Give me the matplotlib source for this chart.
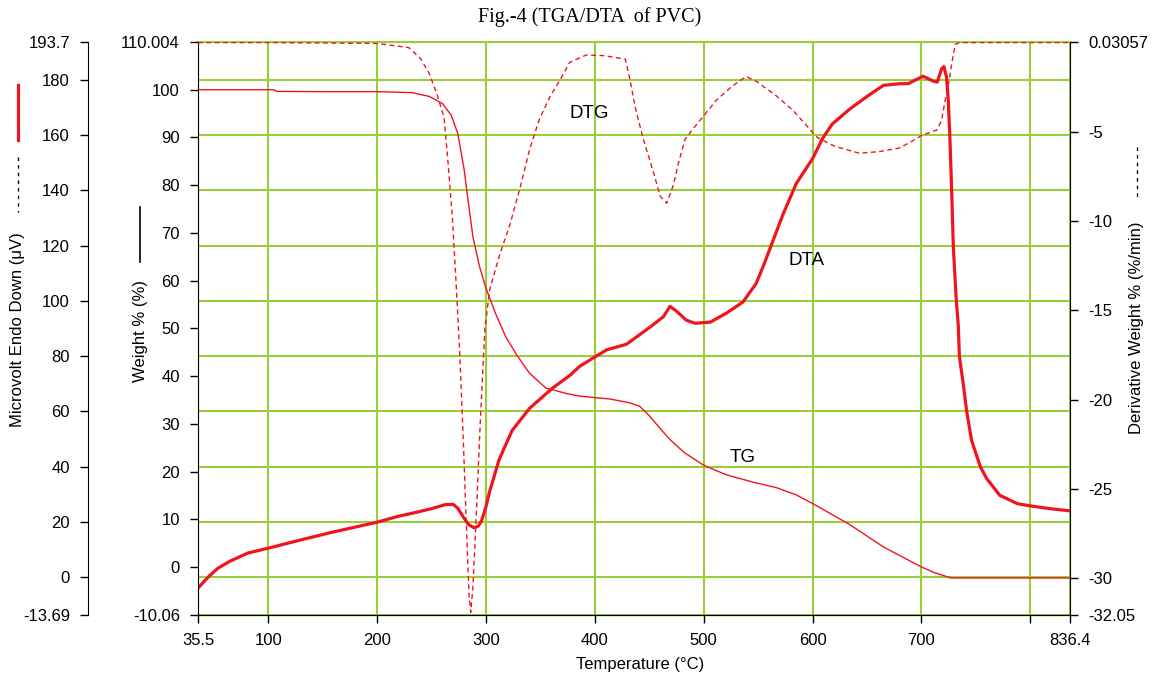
import matplotlib
matplotlib.use("Agg")
import matplotlib.pyplot as plt
from matplotlib.lines import Line2D

plt.rcParams["font.family"] = ["Liberation Sans", "DejaVu Sans"]

# =====================
# data
# =====================

tg_temp = [35.5, 105, 108, 150, 200, 232, 248, 260, 268, 274, 280, 283, 288, 294, 300,
           309, 318, 328, 340, 355, 373, 386, 400, 414, 432, 441, 450, 460, 469, 482,
           500, 521, 545, 567, 585, 600, 634, 665, 700, 712, 727, 836.4]
tg_weight = [100.0, 100.0, 99.65, 99.6, 99.6, 99.4, 98.6, 97.1, 94.7, 90.9, 83.2, 77.8, 69.2, 63.0, 58.4,
             53.0, 48.3, 44.5, 40.6, 37.5, 36.4, 35.8, 35.5, 35.2, 34.4, 33.7, 31.7, 29.0, 26.7, 24.0,
             21.3, 19.3, 17.8, 16.6, 15.1, 13.3, 8.9, 4.2, 0.0, -1.2, -2.3, -2.3]

dta_temp = [35.5, 40, 46, 54, 65, 81, 100, 130, 158, 200, 219, 233, 250, 263, 270, 274, 279, 284,
            289, 293, 296, 300, 303, 312, 324, 340, 361, 377, 386, 400, 411, 429, 450, 463, 469,
            475, 484, 492, 506, 521, 536, 548, 555, 564, 573, 585, 600, 609, 618, 634, 650, 665,
            680, 688, 692, 701.5, 711, 714.5, 718.5, 720.6, 723, 724.6, 726, 727.7, 729.2, 731.7,
            733.8, 734.8, 738.5, 741.5, 746, 754, 760, 772, 788, 800, 818, 836.4]
dta_uv = [-4.0, -2.0, 0.5, 3.3, 5.8, 8.7, 10.5, 13.5, 16.2, 19.9, 22.0, 23.2, 24.8, 26.3, 26.3, 25.0, 21.9, 19.0,
          17.9, 18.5, 20.5, 25.5, 30.5, 42.5, 53.1, 61.1, 68.4, 73.0, 76.3, 79.7, 82.3, 84.3, 90.3, 94.3, 98.0,
          96.3, 93.0, 91.9, 92.3, 95.6, 99.6, 106.2, 112.9, 122.2, 131.5, 142.5, 151.5, 158.7, 164.0, 169.4, 174.0, 178.0,
          178.6, 178.6, 179.5, 181.3, 179.5, 179.2, 184.0, 184.8, 181.0, 172.6, 160.0, 140.0, 120.0, 101.8,
          91.0, 80.0, 69.5, 60.0, 49.5, 40.0, 35.6, 29.6, 26.6, 25.8, 24.8, 24.0]

dtg_temp = [35.5, 100, 200, 229, 240, 248, 255, 261.5, 265, 269, 272.5, 276, 279, 282, 284.5, 286,
            288, 291, 294.5, 299, 303.5, 313, 322, 331, 340, 349, 359, 368, 377, 392, 408, 428,
            432, 437, 444, 454, 460, 466, 472, 477, 483, 490, 500, 512, 527, 539, 549, 567, 582,
            604, 620, 643, 662, 680, 692, 700, 714, 718.5, 721.5, 725.5, 727.7, 731, 735, 836.4]
dtg_rate = [0.0, 0.0, -0.05, -0.28, -0.9, -1.75, -2.9, -4.2, -6.6, -9.7, -13.4, -17.5, -22.0, -27.0, -31.0, -31.9,
            -30.5, -26.6, -21.6, -16.0, -13.8, -11.8, -10.2, -8.2, -6.0, -4.3, -3.0, -2.1, -1.1, -0.7, -0.73, -0.93,
            -2.0, -3.6, -5.3, -7.3, -8.6, -9.0, -8.0, -6.7, -5.4, -4.85, -4.1, -3.2, -2.4, -1.9, -2.2, -3.0, -3.8,
            -5.3, -5.8, -6.2, -6.1, -5.9, -5.5, -5.2, -4.9, -4.35, -3.3, -2.1, -1.2, -0.1, 0.0, 0.0]

x_ticks = [35.5, 100, 200, 300, 400, 500, 600, 700, 800, 836.4]
x_labels = ["35.5", "100", "200", "300", "400", "500", "600", "700", "", "836.4"]
uv_ticks = [-13.69, 0, 20, 40, 60, 80, 100, 120, 140, 160, 180, 193.7]
uv_labels = ["-13.69", "0", "20", "40", "60", "80", "100", "120", "140", "160", "180", "193.7"]
w_ticks = [-10.06, 0, 10, 20, 30, 40, 50, 60, 70, 80, 90, 100, 110.004]
w_labels = ["-10.06", "0", "10", "20", "30", "40", "50", "60", "70", "80", "90", "100", "110.004"]
d_ticks = [-32.05, -30, -25, -20, -15, -10, -5, 0.03057]
d_labels = ["-32.05", "-30", "-25", "-20", "-15", "-10", "-5", "0.03057"]

RED = "#f0141e"
GRID = "#9acd3c"
W, H = 1161, 683


def fx(px):
    return px / W


def fy(py):
    return 1 - py / H


fig = plt.figure(figsize=(W / 100, H / 100), dpi=100)

# base axes: microvolt scale (DTA) + grid
ax = fig.add_axes([fx(198), fy(615), (1070 - 198) / W, (615 - 42) / H])
ax.set_xlim(35.5, 836.4)
ax.set_ylim(-13.69, 193.7)
ax.set_xticks(x_ticks, x_labels)
ax.set_yticks(uv_ticks, uv_labels)
ax.grid(True, color=GRID, linewidth=1.5)
ax.set_axisbelow(True)
# no green line on the black bottom frame
ax.yaxis.get_gridlines()[0].set_visible(False)
ax.spines["left"].set_position(("axes", -110 / 872))
ax.spines["right"].set_visible(False)
ax.spines["top"].set_color(GRID)
ax.spines["top"].set_linewidth(1.5)
ax.yaxis.set_ticks_position("left")
ax.xaxis.set_ticks_position("bottom")
ax.tick_params(direction="out", length=6, width=1, pad=7, labelsize=12)
ax.plot(dta_temp, dta_uv, color=RED, linewidth=2.3, solid_joinstyle="round")
ax.text(594, 114.6, "DTA", fontsize=13.5, ha="center", va="center")

# weight % (TG) on the inner left axis
ax_w = ax.twinx()
ax_w.set_ylim(-10.06, 110.004)
ax_w.yaxis.set_ticks_position("left")
ax_w.set_yticks(w_ticks, w_labels)
for side in ["right", "top", "bottom"]:
    ax_w.spines[side].set_visible(False)
ax_w.tick_params(direction="out", length=6, width=1, pad=7, labelsize=12)
ax_w.plot(tg_temp, tg_weight, color=RED, linewidth=1.0)
ax_w.text(536, 22.9, "TG", fontsize=13.5, ha="center", va="center")

# derivative weight (DTG) on the right axis, also carries the black bottom frame
ax_d = ax.twinx()
ax_d.set_ylim(-32.05, 0.03057)
ax_d.set_yticks(d_ticks, d_labels)
for side in ["left", "top"]:
    ax_d.spines[side].set_visible(False)
ax_d.spines["bottom"].set_visible(True)
ax_d.spines["bottom"].set_color("black")
ax_d.tick_params(direction="out", length=6, width=1, pad=7, labelsize=12)
ax_d.plot(dtg_temp, dtg_rate, color=RED, linewidth=1.0, linestyle=(0, (3.5, 2.5)))
ax_d.text(395, -3.96, "DTG", fontsize=13.5, ha="center", va="center")

# axis titles with their line keys
fig.text(fx(18), fy(330), "Microvolt Endo Down (μV)", rotation=90, ha="center", va="center", fontsize=12)
fig.add_artist(Line2D([fx(18), fx(18)], [fy(85), fy(140)], color=RED, linewidth=2.3))
fig.add_artist(Line2D([fx(18), fx(18)], [fy(157), fy(212)], color="black", linewidth=1.0,
                      linestyle=(0, (2.5, 3))))
fig.text(fx(140), fy(331), "Weight % (%)", rotation=90, ha="center", va="center", fontsize=12)
fig.add_artist(Line2D([fx(139.5), fx(139.5)], [fy(207), fy(262)], color="black", linewidth=1.2))
fig.text(fx(1137), fy(328), "Derivative Weight % (%/min)", rotation=90, ha="center", va="center", fontsize=12)
fig.add_artist(Line2D([fx(1137), fx(1137)], [fy(147), fy(200)], color="black", linewidth=1.0,
                      linestyle=(0, (2.5, 3))))
fig.text(fx(640), fy(665), "Temperature (°C)", ha="center", va="center", fontsize=12)
fig.text(fx(590), fy(17), "Fig.-4 (TGA/DTA  of PVC)", ha="center", va="center", fontsize=14.5,
         family="Liberation Serif")

fig.savefig("out.png", dpi=100)
